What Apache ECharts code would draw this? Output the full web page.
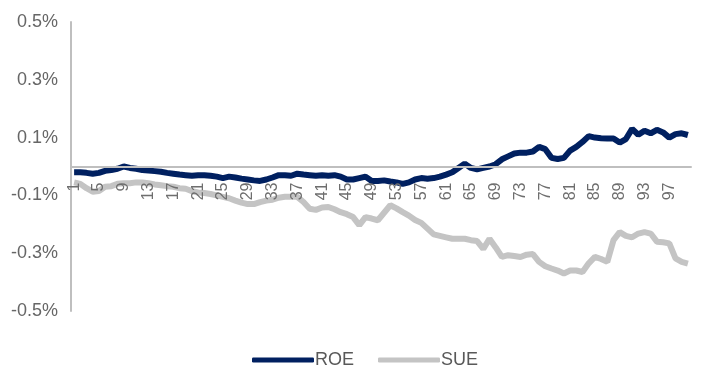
<!DOCTYPE html>
<html><head><meta charset="utf-8">
<script src="https://cdn.jsdelivr.net/npm/echarts@6/dist/echarts.min.js"></script>
<style>html,body{margin:0;padding:0;background:#fff}#c{width:702px;height:381px}</style>
</head><body><div id="c"></div>
<script>
var categories = [];
for (var i = 1; i <= 100; i++) categories.push(String(i));
var roe = [-0.02,-0.02,-0.022,-0.025,-0.022,-0.015,-0.012,-0.008,0.0,-0.005,
-0.008,-0.012,-0.014,-0.016,-0.018,-0.022,-0.025,-0.028,-0.03,-0.032,
-0.03,-0.03,-0.032,-0.035,-0.04,-0.035,-0.038,-0.042,-0.045,-0.048,
-0.05,-0.045,-0.038,-0.03,-0.03,-0.032,-0.025,-0.028,-0.03,-0.032,
-0.03,-0.032,-0.03,-0.035,-0.045,-0.045,-0.04,-0.035,-0.05,-0.05,
-0.048,-0.052,-0.055,-0.06,-0.055,-0.045,-0.04,-0.042,-0.04,-0.035,
-0.028,-0.02,-0.005,0.01,-0.005,-0.01,-0.005,0.0,0.008,0.025,
0.035,0.045,0.048,0.048,0.052,0.068,0.06,0.03,0.026,0.03,
0.055,0.068,0.085,0.105,0.1,0.098,0.097,0.097,0.083,0.095,
0.13,0.11,0.124,0.115,0.127,0.118,0.1,0.112,0.115,0.109];
var sue = [-0.055,-0.06,-0.075,-0.087,-0.085,-0.07,-0.068,-0.06,-0.058,-0.058,
-0.055,-0.055,-0.058,-0.062,-0.065,-0.068,-0.07,-0.075,-0.077,-0.085,
-0.09,-0.092,-0.095,-0.1,-0.105,-0.11,-0.118,-0.125,-0.13,-0.13,
-0.123,-0.118,-0.115,-0.108,-0.105,-0.105,-0.105,-0.123,-0.146,-0.15,
-0.142,-0.14,-0.148,-0.158,-0.165,-0.175,-0.203,-0.175,-0.18,-0.186,
-0.16,-0.134,-0.145,-0.158,-0.17,-0.185,-0.195,-0.215,-0.235,-0.24,
-0.245,-0.25,-0.25,-0.25,-0.255,-0.258,-0.285,-0.25,-0.28,-0.313,
-0.307,-0.31,-0.313,-0.305,-0.303,-0.33,-0.345,-0.353,-0.36,-0.37,
-0.36,-0.36,-0.365,-0.335,-0.313,-0.32,-0.33,-0.255,-0.227,-0.24,
-0.245,-0.232,-0.227,-0.232,-0.26,-0.262,-0.266,-0.318,-0.33,-0.336];
var seriesNames = ['ROE', 'SUE'];
var seriesColors = ['#002060', '#c4c4c4'];

var chart = echarts.init(document.getElementById('c'), null, {renderer: 'canvas'});
var font = 'Arial, "Liberation Sans", sans-serif';
var gridTop = 22, gridBottom = 70, H = 381;
var plotH = H - gridTop - gridBottom;
chart.setOption({
  animation: false,
  backgroundColor: '#fff',
  grid: {left: 71, right: 11, top: gridTop, bottom: gridBottom, containLabel: false},
  legend: {
    top: 346, left: 247,
    itemWidth: 62, itemHeight: 5, itemGap: 24,
    icon: 'roundRect',
    textStyle: {fontFamily: font, fontSize: 18, color: '#595959', padding: [0,0,0,-4]},
    data: seriesNames
  },
  xAxis: {
    type: 'category', data: categories, boundaryGap: true,
    position: 'bottom', offset: -plotH / 2, z: 10,
    axisLine: {onZero: false, lineStyle: {color: '#bfbfbf', width: 2}},
    axisTick: {show: false},
    axisLabel: {interval: 3, rotate: 90, margin: 16, fontFamily: font, fontSize: 16, color: '#6e6e6e'},
    splitLine: {show: false}
  },
  yAxis: {
    type: 'value', min: -0.5, max: 0.5, interval: 0.2,
    axisLine: {show: true, onZero: false, lineStyle: {color: '#bfbfbf', width: 2}},
    axisTick: {show: false},
    splitLine: {show: false},
    axisLabel: {margin: 13, fontFamily: font, fontSize: 18, color: '#666666',
      formatter: function (v) { return v.toFixed(1) + '%'; }}
  },
  series: [
    {name: seriesNames[0], type: 'line', data: roe, symbol: 'none', smooth: false,
     lineStyle: {width: 6, color: seriesColors[0]}, itemStyle: {color: seriesColors[0]}, z: 3},
    {name: seriesNames[1], type: 'line', data: sue, symbol: 'none', smooth: false,
     lineStyle: {width: 6, color: seriesColors[1]}, itemStyle: {color: seriesColors[1]}, z: 2}
  ]
});
</script></body></html>
